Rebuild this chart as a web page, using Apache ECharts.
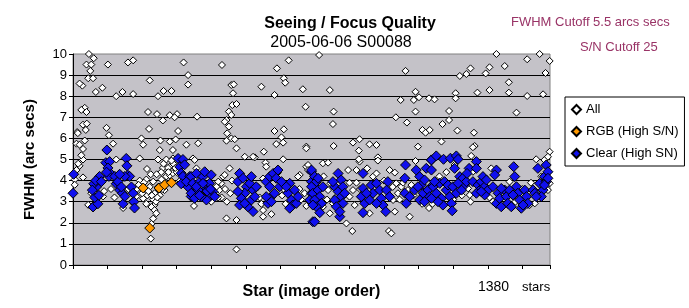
<!DOCTYPE html>
<html>
<head>
<meta charset="utf-8">
<script src="https://cdn.jsdelivr.net/npm/echarts@6/dist/echarts.min.js"></script>
<style>
  html, body { margin: 0; padding: 0; background: #fff; }
  #chart { width: 689px; height: 308px; }
</style>
</head>
<body>
<div id="chart"></div>
<script>
// star count and axis ranges
const starCount = 1380;
const fwhmTicks = [0, 1, 2, 3, 4, 5, 6, 7, 8, 9, 10];

// [star index, FWHM]
const allPoints = [
  [46,10.0],[60,9.8],[39,9.5],[53,9.5],[50,9.2],[44,8.85],[58,8.85],[27,8.5],[19,8.6],[101,9.5],[159,9.6],[174,9.7],
  [85,8.4],[66,8.2],[125,8.0],[143,8.2],[174,8.1],[222,8.75],[246,8.0],[262,8.25],[285,8.25],[320,9.6],[333,9.0],[333,8.55],
  [34,7.45],[24,7.35],[39,7.25],[29,6.65],[12,6.3],[37,6.4],[97,6.5],[104,6.15],[217,7.25],[243,7.15],[260,6.85],[280,7.1],
  [301,7.15],[294,7.0],[220,6.45],[304,6.35],[198,6.0],[253,5.9],[280,5.85],[297,5.95],[328,5.7],[10,5.75],[19,5.7],[29,5.5],
  [203,5.7],[116,5.75],[125,5.0],[193,5.05],[214,4.55],[251,5.45],[270,5.0],[289,5.45],[289,5.05],[246,5.0],[260,4.6],[280,4.65],
  [29,5.0],[19,4.7],[10,4.5],[29,4.15],[5,4.05],[5,3.8],[347,5.05],
  [193,4.0],[212,4.05],[232,3.95],[222,3.7],[236,3.4],[251,3.3],[265,3.55],[246,3.7],[232,3.1],[236,2.85],[227,2.75],[236,2.6],
  [232,2.2],[227,1.95],[225,1.25],[44,2.85],[53,3.4],[145,2.7],[87,3.25],[183,3.25],[203,3.15],[212,2.9],[241,2.45],[270,4.2],
  [280,4.25],[289,4.35],[256,4.05],
  [15,4.8],[24,5.2],[34,5.9],[14,6.25],[40,6.7],[80,4.0],[90,3.5],[110,3.6],[120,3.2],[160,3.6],[170,3.0],[185,3.6],[190,3.8],
  [200,3.4],[215,3.3],[240,3.0],[255,4.4],[275,4.6],[290,4.8],[300,4.4],[310,4.0],
  [205,3.9],[218,3.5],[228,3.3],[244,3.2],[258,3.6],[268,3.9],[276,4.4],[296,4.6],[225,4.3],[242,4.3],[262,4.8],[285,4.95],
  [434,4.19],[429,3.87],[424,3.55],[420,3.95],[415,3.71],[439,4.27],[357,4.58],[352,4.98],[362,5.77],[359,7.03],[431,9.48],
  [458,8.53],[465,8.56],[463,8.14],[461,7.58],[473,7.63],[451,7.27],[458,7.11],[444,6.87],[439,6.79],[451,6.56],[446,6.24],
  [458,6.0],[468,5.96],[473,5.53],[444,5.89],[453,4.58],[444,2.21],[473,2.13],[473,0.74],[497,5.13],[526,5.1],[521,5.13],
  [545,8.45],[552,5.37],[557,4.85],[559,4.66],[583,8.06],[590,9.32],[624,9.7],[610,8.85],[614,8.64],[583,6.35],[610,6.43],
  [603,6.05],[608,5.8],[588,5.73],[675,5.61],[675,5.53],[608,5.01],[665,8.33],[673,7.5],[550,2.29],[574,2.41],[593,4.38],
  [656,4.27],[651,4.19],[675,4.66],[680,4.74],[680,4.5],
  [430,3.2],[440,3.6],[445,3.0],[455,3.4],[460,4.0],[535,3.7],[540,3.2],[545,2.9],[550,2.6],[550,4.1],[605,3.3],[610,3.6],
  [615,2.9],[655,3.6],[660,3.1],[670,3.4],[675,2.8],[420,3.2],[400,3.0],[350,2.8],
  [712,9.95],[743,8.29],[754,7.27],[752,6.68],[754,5.64],[723,4.82],[738,4.85],[810,5.8],[829,5.96],[827,5.42],[858,5.72],
  [878,5.69],[829,4.9],[827,5.01],[882,5.1],[882,4.95],[796,4.5],[820,4.5],[851,4.58],[916,4.5],[931,4.38],[962,9.2],[991,8.21],
  [1001,7.95],[986,7.82],[948,7.82],[1030,7.9],[1046,7.85],[991,7.27],[934,7.0],[966,6.75],[1011,6.4],[1020,6.27],[1032,6.4],
  [998,5.61],[991,4.93],[808,1.61],[914,1.61],[921,1.5],[791,1.97],[974,2.29],[745,3.87],[738,3.55],[752,2.92],[762,3.24],
  [723,2.76],[743,2.45],[810,3.55],[800,3.24],[815,2.84],[858,2.45],[868,4.19],[878,4.34],[935,3.87],[940,3.4],[926,3.08],
  [931,2.53],[950,3.71],[969,3.55],[979,3.79],[964,2.92],
  [800,3.9],[820,3.9],[830,3.6],[900,4.0],[925,3.7],[945,3.1],[955,3.9],[985,3.3],[1010,2.9],[1030,2.7],[725,4.2],[735,3.1],
  [1225,10.0],[1350,10.0],[1314,9.75],[1379,9.67],[1249,9.43],[1205,9.37],[1150,9.32],[1119,8.96],[1138,9.05],[1194,9.08],
  [1261,8.66],[1367,9.1],[1170,8.17],[1205,8.29],[1261,8.17],[1314,8.01],[1360,8.09],[1107,8.14],[1107,7.9],[1088,7.3],
  [1088,6.87],[1069,6.68],[1283,7.22],[1112,6.37],[1160,6.27],[1066,5.85],[1162,5.64],[1157,5.58],[1152,5.17],[1104,4.74],
  [1157,4.42],[1340,5.01],[1364,4.98],[1379,5.37],[1374,5.13],[1148,3.32],[1143,3.63],[1210,4.58],[1263,3.95],[1321,2.84],
  [1336,2.92],[1340,3.24],[1374,3.55],[1379,3.87],
  [1125,3.3],[1150,3.0],[1205,3.2],[1215,3.0],[1245,3.3],[1280,3.0],[1300,3.6],[1325,3.9],[1355,4.2],[1040,2.9],[1060,4.2],
  [1080,4.4],[1100,3.1]
];

const rgbPoints = [[203,3.65],[222,1.75],[249,3.65],[265,3.8],[285,3.9]];

const clearPoints = [
  [2,4.3],[0,3.4],
  [58,2.75],[72,2.9],[63,3.2],[75,3.3],[68,3.7],[60,3.85],[77,4.2],[66,4.0],[56,3.55],[82,3.95],
  [98,5.45],[95,4.85],[106,4.9],[101,4.6],[111,4.3],[104,4.2],[97,4.4],
  [121,4.2],[125,3.85],[135,3.55],[143,3.4],[145,2.9],[150,3.25],[154,5.05],[156,4.7],[159,4.25],[164,4.2],[169,3.7],
  [174,3.4],[176,3.0],[178,2.7],[130,3.95],[140,3.7],[150,4.2],[135,4.3],
  [304,5.05],[318,5.0],[309,4.65],[323,4.75],[313,4.35],[318,4.2],[313,3.85],[338,4.2],[347,3.85],[342,3.55],[342,3.25],
  [333,3.7],[328,3.95],
  [342,4.19],[347,3.87],[342,3.4],[357,4.34],[367,3.95],[376,4.19],[381,3.55],[391,3.71],[395,3.24],[386,3.08],[400,4.27],
  [405,3.48],[410,3.24],[371,3.24],[362,3.55],[352,3.16],[381,4.42],[395,3.87],[357,3.71],[376,3.87],[366,3.3],[388,3.5],[398,3.6],
  [482,4.34],[477,3.95],[492,4.11],[502,3.71],[497,3.4],[487,3.16],[482,2.84],[511,3.87],[521,3.55],[516,3.08],[526,3.24],
  [521,2.53],[506,2.76],[516,4.19],[497,2.92],[477,3.48],[530,3.71],
  [559,3.95],[569,3.71],[574,3.24],[564,2.92],[569,4.19],[579,4.34],[593,4.5],[598,3.71],[588,4.11],[603,3.95],[583,3.4],
  [574,3.0],[559,3.24],
  [627,3.87],[622,3.4],[632,3.08],[636,2.84],[646,2.92],[641,3.55],[651,3.24],[617,3.71],[627,2.69],
  [690,4.42],[690,3.95],[694,3.71],[690,3.4],[694,2.05],[685,3.08],
  [690,4.5],[699,4.19],[704,3.95],[690,3.71],[694,3.4],[709,3.55],[714,3.24],[719,2.92],[699,3.08],[704,2.76],[714,2.48],
  [694,2.84],[699,2.05],[723,3.71],[709,4.11],
  [767,4.34],[776,4.03],[757,3.71],[767,3.48],[776,3.24],[781,2.92],[757,3.08],[762,2.76],[772,2.29],[781,3.71],[752,3.95],
  [786,3.4],[772,2.53],
  [839,4.34],[839,3.63],[834,3.24],[844,2.92],[839,2.48],[863,3.79],[868,3.4],[878,3.87],[887,3.55],[892,3.16],[897,2.84],
  [905,2.53],[911,3.95],[907,3.55],[916,3.24],[878,2.92],[858,3.08],[849,3.4],
  [962,4.74],[960,4.11],[960,3.4],[964,2.92],[974,3.24],[993,4.5],[1003,4.19],[1008,3.79],[1013,3.4],[1022,4.58],[1017,4.03],
  [1027,3.55],[1032,3.24],[1037,4.98],[1041,3.79],[1003,3.08],[988,3.55],[1017,3.0],[998,3.71],
  [1037,4.98],[1051,5.17],[1072,5.01],[1092,5.06],[1109,5.17],[1114,5.01],[1104,4.58],[1037,4.5],
  [1042,3.71],[1051,3.4],[1061,3.87],[1066,3.16],[1075,3.95],[1080,3.55],[1090,3.24],[1095,2.92],[1097,2.57],[1085,3.79],
  [1070,2.84],[1056,3.0],[1037,3.16],[1099,3.71],[1109,3.4],[1046,3.95],
  [1119,4.19],[1128,4.11],[1133,3.79],[1124,3.55],[1138,3.95],[1114,3.87],
  [1146,4.58],[1167,4.9],[1167,4.58],[1140,4.34],[1157,3.95],[1172,3.79],[1177,3.55],[1167,3.4],[1181,3.95],[1186,4.19],
  [1191,3.71],[1196,4.03],[1201,3.55],[1191,3.32],[1181,3.48],
  [1225,4.5],[1220,4.27],[1215,3.71],[1230,3.4],[1225,2.92],[1234,3.16],[1239,2.76],[1249,3.55],[1254,3.24],[1258,2.92],
  [1268,2.76],[1275,4.66],[1278,4.19],[1283,3.71],[1287,3.4],[1292,3.08],[1297,2.69],[1307,3.55],[1312,3.24],[1316,2.92],
  [1302,2.84],[1263,3.55],[1273,3.32],[1239,3.63],
  [1331,3.55],[1336,3.4],[1345,4.58],[1350,3.87],[1360,3.55],[1364,4.19],[1369,4.74],[1374,4.42],[1369,3.95],[1364,3.79],
  [1355,3.24],[1340,3.24],[1374,4.11]
];

const font = 'Arial, "Liberation Sans", sans-serif';
const chart = echarts.init(document.getElementById('chart'), null, { renderer: 'canvas' });

let option = {
  backgroundColor: '#ffffff',
  animation: false,
  title: [
    {
      text: 'Seeing / Focus Quality', left: 345, top: 11, textAlign: 'center',
      textStyle: { fontFamily: font, fontSize: 16, fontWeight: 'bold', color: '#000' }
    },
    {
      text: '2005-06-06 S00088', left: 336, top: 30, textAlign: 'center',
      textStyle: { fontFamily: font, fontSize: 16, fontWeight: 'normal', color: '#000' }
    }
  ],
  graphic: [
    { type: 'text', left: 511, top: 16, style: { text: 'FWHM Cutoff 5.5 arcs secs', font: '13px ' + font, fill: '#993366' } },
    { type: 'text', left: 580, top: 41, style: { text: 'S/N Cutoff 25', font: '13px ' + font, fill: '#993366' } },
    { type: 'text', left: 478, top: 280, style: { text: String(starCount), font: '14px ' + font, fill: '#000' } },
    { type: 'text', left: 522, top: 281, style: { text: 'stars', font: '13px ' + font, fill: '#000' } }
  ],
  legend: {
    orient: 'vertical',
    left: 565, top: 97,
    backgroundColor: '#ffffff',
    borderColor: '#000',
    borderWidth: 1,
    padding: [5, 6, 5, 6],
    itemWidth: 9, itemHeight: 9,
    itemGap: 7,
    textStyle: { fontFamily: font, fontSize: 13, color: '#000', lineHeight: 15 },
    data: ['All', 'RGB (High S/N)', 'Clear (High SN)']
  },
  grid: {
    left: 73, top: 54, width: 477, height: 211,
    show: true,
    backgroundColor: '#c4c2c8',
    borderColor: '#808080',
    borderWidth: 1
  },
  xAxis: {
    type: 'value',
    min: 0, max: starCount, interval: 100,
    name: 'Star (image order)',
    nameLocation: 'middle',
    nameGap: 19,
    nameTextStyle: { fontFamily: font, fontSize: 16, fontWeight: 'bold', color: '#000' },
    axisLine: { lineStyle: { color: '#000', width: 1 } },
    axisTick: { show: true, length: 4, lineStyle: { color: '#000' } },
    axisLabel: { show: false },
    splitLine: { show: false }
  },
  yAxis: {
    type: 'value',
    min: fwhmTicks[0], max: fwhmTicks[fwhmTicks.length - 1], interval: 1,
    name: 'FWHM (arc secs)',
    nameLocation: 'middle',
    nameGap: 36,
    nameTextStyle: { fontFamily: font, fontSize: 15, fontWeight: 'bold', color: '#000' },
    axisLine: { show: true, lineStyle: { color: '#000', width: 1 } },
    axisTick: { show: true, length: 4, lineStyle: { color: '#000' } },
    axisLabel: { fontFamily: font, fontSize: 13, color: '#000', margin: 6 },
    splitLine: { show: true, showMaxLine: false, lineStyle: { color: '#000', width: 1 } }
  },
  series: [
    {
      name: 'All', type: 'scatter', symbol: 'diamond', symbolSize: 7,
      itemStyle: { color: '#ffffff', borderColor: '#000', borderWidth: 1, opacity: 1 },
      data: allPoints
    },
    {
      name: 'RGB (High S/N)', type: 'scatter', symbol: 'diamond', symbolSize: 10,
      itemStyle: { color: '#ff9900', borderColor: '#000', borderWidth: 1, opacity: 1 },
      data: rgbPoints
    },
    {
      name: 'Clear (High SN)', type: 'scatter', symbol: 'diamond', symbolSize: 10,
      itemStyle: { color: '#1010ee', borderColor: '#000', borderWidth: 1, opacity: 1 },
      data: clearPoints
    }
  ]
};

chart.setOption(option);
</script>
</body>
</html>
